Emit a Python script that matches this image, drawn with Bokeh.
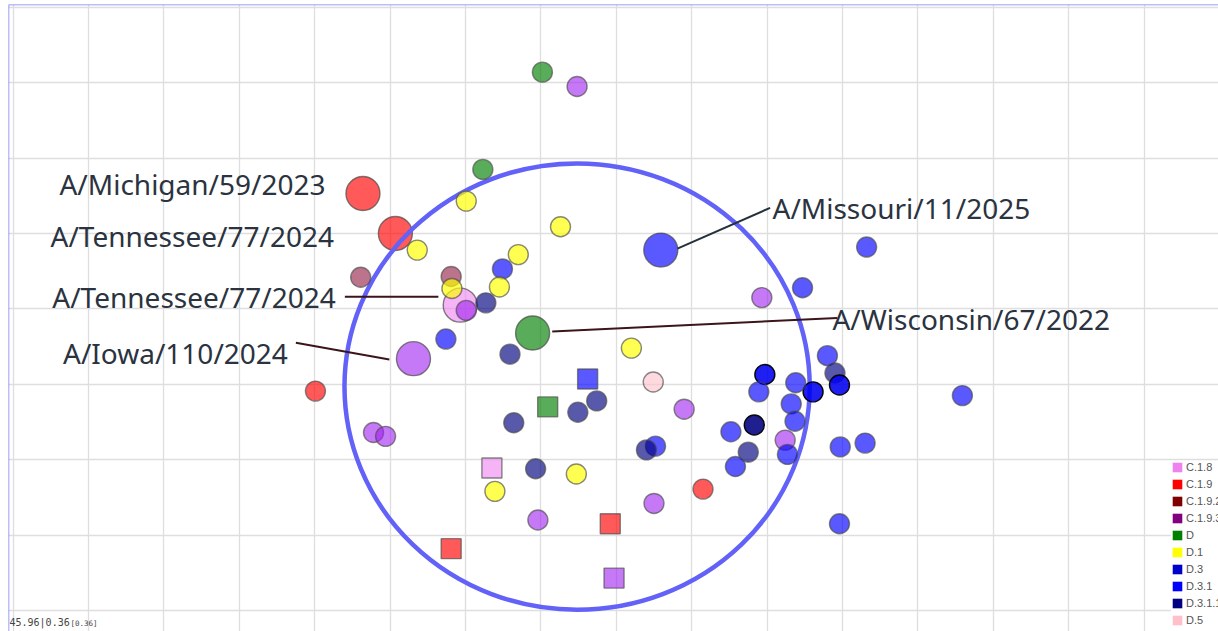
from bokeh.plotting import figure
from bokeh.models import (Range1d, Grid, SingleIntervalTicker, Span, Legend,
                          LegendItem, Label, ColumnDataSource)
from bokeh.embed import file_html
from bokeh.resources import INLINE
from bokeh.core.properties import value

# ---- antigens (small circles), map coordinates in antigenic units ----
ag_x = [7.02, 7.48, 6.23, 6.01, 7.26, 5.36, 11.32, 6.70, 6.49, 4.61, 5.81, 6.45,
        5.82, 10.47, 9.93, 6.01, 6.27, 5.74, 6.59, 8.20, 10.80, 4.01, 8.49, 9.97,
        10.90, 10.96, 10.61, 10.38, 9.89, 12.59, 7.74, 7.49, 6.64, 8.90, 10.32,
        4.78, 4.94, 9.83, 9.52, 10.37, 10.24, 8.52, 8.40, 9.75, 10.27, 10.97,
        11.30, 9.58, 6.93, 7.47, 6.39, 9.15, 6.96, 8.50, 10.96]
ag_y = [7.14, 6.95, 5.85, 5.43, 5.09, 4.78, 4.82, 4.72, 4.53, 4.42, 4.43, 4.29,
        4.27, 4.28, 4.15, 3.98, 4.08, 3.60, 3.40, 3.48, 3.38, 2.91, 3.03, 3.13,
        3.15, 2.99, 2.90, 3.02, 2.90, 2.85, 2.78, 2.63, 2.49, 2.67, 2.74,
        2.36, 2.31, 2.46, 2.37, 2.51, 2.26, 2.18, 2.13, 2.10, 2.07, 2.17,
        2.22, 1.91, 1.88, 1.81, 1.58, 1.61, 1.20, 1.42, 1.15]
ag_clade = ["D", "C.1.9.3", "D", "D.1", "D.1", "D.1", "D.3.1", "D.1", "D.3.1",
            "C.1.9.2", "C.1.9.2", "D.1", "D.1", "D.3.1", "C.1.9.3", "C.1.9.3",
            "D.3.1.1", "D.3.1", "D.3.1.1", "D.1", "D.3.1", "C.1.9", "D.5", "D.3",
            "D.3.1.1", "D.3", "D.3", "D.3.1", "D.3.1", "D.3.1", "D.3.1.1",
            "D.3.1.1", "D.3.1.1", "C.1.9.3", "D.3.1", "C.1.9.3", "C.1.9.3",
            "D.3.1.1", "D.3.1", "D.3.1", "C.1.9.3", "D.3.1", "D.3.1.1", "D.3.1.1",
            "D.3.1", "D.3.1", "D.3.1", "D.3.1", "D.3.1.1", "D.1", "D.1", "C.1.9",
            "C.1.9.3", "C.1.9.3", "D.3.1"]
ag_recent = [False] * 23 + [True] + [False, True, True] + [False] * 10 + [True] + [False] * 17

# ---- sera (squares) ----
sr_x = [7.62, 7.09, 6.35, 7.92, 5.81, 7.97]
sr_y = [3.07, 2.70, 1.89, 1.15, 0.82, 0.43]
sr_clade = ["D.3.1", "D", "C.1.8", "C.1.9", "C.1.9", "C.1.9.3"]

# ---- named reference antigens ----
ref_name = ["A/Michigan/59/2023", "A/Tennessee/77/2024", "A/Tennessee/77/2024",
            "A/Iowa/110/2024", "A/Wisconsin/67/2022", "A/Missouri/11/2025"]
ref_x = [4.64, 5.07, 5.93, 5.31, 6.89, 8.59]
ref_y = [5.53, 5.00, 4.05, 3.34, 3.68, 4.78]
ref_clade = ["C.1.9", "C.1.9", "C.1.8", "C.1.9.3", "D", "D.3.1"]

# label anchors (text baseline, left edge) and leader lines
label_x = [0.615, 0.496, 0.520, 0.662, 10.867, 10.072]
label_y = [5.66, 4.97, 4.16, 3.42, 3.87, 5.34]
leader_x0 = [4.40, 3.75, 7.15, 8.81]
leader_y0 = [4.16, 3.55, 3.70, 4.80]
leader_x1 = [5.64, 4.99, 10.93, 10.04]
leader_y1 = [4.16, 3.33, 3.88, 5.34]
leader_color = ["#3b1519", "#3b1519", "#3b1519", "#24303c"]

# coverage ring
ring_x, ring_y, ring_w, ring_h = 7.48, 2.97, 6.17, 5.92

# legend
legend_clades = ["C.1.8", "C.1.9", "C.1.9.2", "C.1.9.3", "D", "D.1", "D.3",
                 "D.3.1", "D.3.1.1", "D.5"]
legend_colors = ["#ee82ee", "#ff0000", "#800000", "#800080", "#008000",
                 "#ffff00", "#0000cd", "#0000ff", "#000080", "#ffc0cb"]

# point fill per clade (drawn translucent)
clade_fill = {"C.1.8": "#ee82ee", "C.1.9": "#ff0000", "C.1.9.2": "#8a1038",
              "C.1.9.3": "#a020f0", "D": "#008000", "D.1": "#ffff00",
              "D.3": "#0000f0", "D.3.1": "#0000ff", "D.3.1.1": "#000080",
              "D.5": "#ffc0cb"}
clade_alpha = {"C.1.8": 0.6, "C.1.9": 0.65, "C.1.9.2": 0.58, "C.1.9.3": 0.6,
               "D": 0.65, "D.1": 0.68, "D.3": 0.65, "D.3.1": 0.65,
               "D.3.1.1": 0.65, "D.5": 0.6}

x0_px, y0_px = 12.6, 610.0
unit = 75.4
p = figure(width=1218, height=631,
           x_range=Range1d((8 - x0_px) / unit, (1218 - x0_px) / unit),
           y_range=Range1d((y0_px - 631) / unit, (y0_px - 4) / unit),
           output_backend="svg", toolbar_location=None,
           x_axis_location=None, y_axis_location=None,
           min_border_left=8, min_border_top=4, min_border_right=0,
           min_border_bottom=0, outline_line_color=None,
           background_fill_color="white", border_fill_color="white")

for dim in (0, 1):
    p.add_layout(Grid(dimension=dim, ticker=SingleIntervalTicker(interval=1),
                      grid_line_color="#dedede", grid_line_width=1.3))

p.add_layout(Span(location=p.x_range.start, dimension="height",
                  line_color="#7b7bff", line_width=1.5))
p.add_layout(Span(location=p.y_range.end, dimension="width",
                  line_color="#7b7bff", line_width=1.5))

# reference antigens (large)
ref_src = ColumnDataSource(dict(
    x=ref_x, y=ref_y,
    fill=[clade_fill[c] for c in ref_clade],
    alpha=[clade_alpha[c] for c in ref_clade]))
p.scatter("x", "y", source=ref_src, marker="circle", size=34,
          fill_color="fill", fill_alpha="alpha",
          line_color="#4a4a4a", line_alpha=0.7, line_width=1.4)

# coverage ring
p.ellipse(x=[ring_x], y=[ring_y], width=ring_w, height=ring_h,
          fill_color=None, line_color="#6262f8", line_width=4.5)

# antigens
ag_src = ColumnDataSource(dict(
    x=ag_x, y=ag_y,
    fill=[clade_fill[c] for c in ag_clade],
    alpha=[0.88 if r else clade_alpha[c] for c, r in zip(ag_clade, ag_recent)],
    line=["#000000" if r else "#4a4a4a" for r in ag_recent],
    lalpha=[0.95 if r else 0.65 for r in ag_recent]))
p.scatter("x", "y", source=ag_src, marker="circle", size=20,
          fill_color="fill", fill_alpha="alpha",
          line_color="line", line_alpha="lalpha", line_width=1.4)

# sera
sr_src = ColumnDataSource(dict(
    x=sr_x, y=sr_y,
    fill=[clade_fill[c] for c in sr_clade],
    alpha=[clade_alpha[c] for c in sr_clade]))
p.scatter("x", "y", source=sr_src, marker="square", size=20,
          fill_color="fill", fill_alpha="alpha",
          line_color="#4a4a4a", line_alpha=0.65, line_width=1.4)

# leaders and labels
p.segment(leader_x0, leader_y0, leader_x1, leader_y1,
          line_color=leader_color, line_width=2)
p.text(x=label_x, y=label_y, text=ref_name,
       text_font=value("Noto Sans"), text_font_size="28px",
       text_color="#2b3340", text_align="left", text_baseline="alphabetic")

# clade legend: swatch-only renderers (one undefined row, nothing drawn on the map)
nan = float("nan")
items = []
for name, col in zip(legend_clades, legend_colors):
    r = p.quad(left=[nan], right=[nan], top=[nan], bottom=[nan],
               fill_color=col, line_color=None)
    items.append(LegendItem(label=name, renderers=[r]))
legend = Legend(items=items, location=(1163, 5), orientation="vertical",
                glyph_width=12, glyph_height=12, label_height=12, spacing=5,
                padding=2, margin=0, label_standoff=3,
                label_text_font_size="11px", label_text_font="Liberation Sans",
                label_text_color="#555555", border_line_color=None,
                background_fill_color="white", background_fill_alpha=1)
p.add_layout(legend)

# stress readout
p.add_layout(Label(x=(9 - x0_px) / unit, y=(y0_px - 627) / unit,
                   text="45.96|0.36", text_font="DejaVu Sans Mono",
                   text_font_size="10px", text_color="#444444"))
p.add_layout(Label(x=(70 - x0_px) / unit, y=(y0_px - 627) / unit,
                   text="[0.36]", text_font="DejaVu Sans Mono",
                   text_font_size="7.5px", text_color="#444444"))

open("out.html", "w").write(file_html(p, INLINE))
